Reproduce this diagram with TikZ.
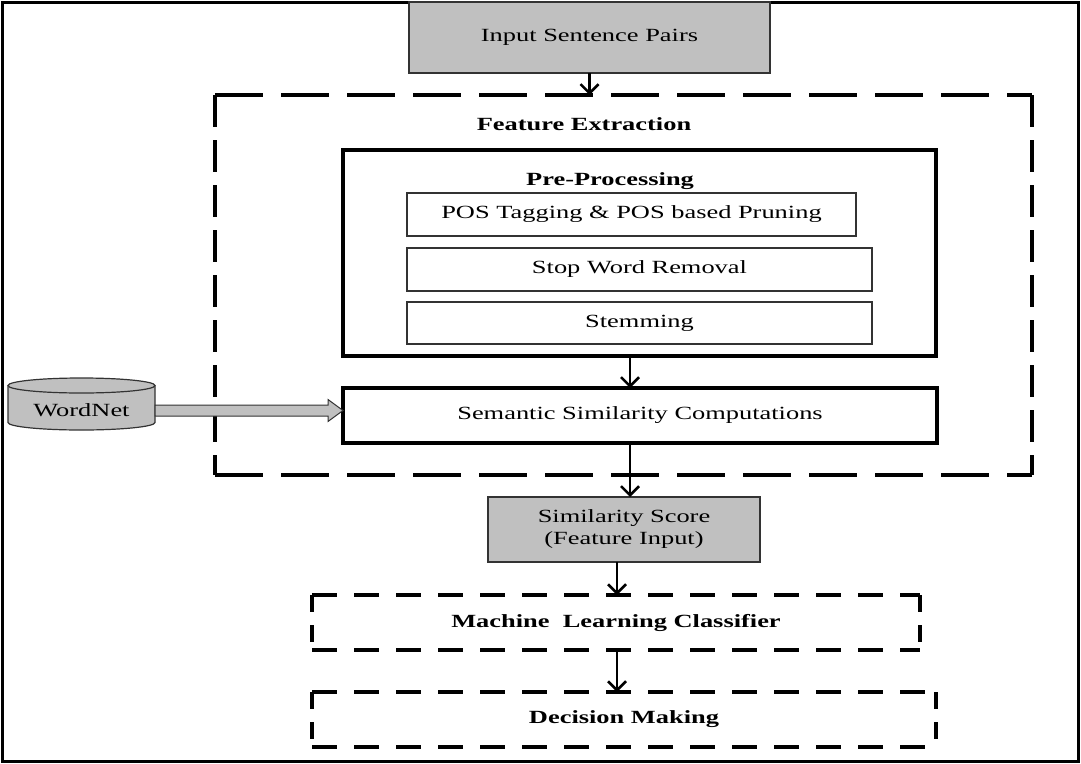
\documentclass[tikz,border=0pt]{standalone}
\usepackage{fontspec}
\setmainfont{Liberation Serif}[FakeStretch=1.42]
\usetikzlibrary{arrows.meta,calc}
\definecolor{boxgray}{HTML}{C0C0C0}
\definecolor{edgegray}{HTML}{333333}
\tikzset{
  txt/.style={font=\fontsize{18.6}{22}\selectfont, align=center, inner sep=0pt},
  bx/.style={txt, minimum width=#1, outer sep=0pt},
  thinbox/.style={draw=edgegray, line width=1.5pt},
  graybox/.style={thinbox, fill=boxgray},
  thickbox/.style={draw=black, line width=4pt},
  arr/.style={line width=2.5pt, -{Straight Barb[length=9pt,width=18pt,line width=2.5pt]}},
  bigdashH/.style={line width=3.5pt, dash pattern=on 48pt off 18pt},
  bigdashV/.style={line width=4pt, dash pattern=on 32pt off 13pt},
  smdashH/.style={line width=3.5pt, dash pattern=on 25pt off 17pt},
  smdashV/.style={line width=4pt, dash pattern=on 17pt off 13pt},
}
\begin{document}
\begin{tikzpicture}[x=1pt,y=-1pt]
\useasboundingbox (0,0) rectangle (1081,763);
\draw[line width=3pt] (2,2) rectangle (1078,761);

% boxes
\node[bx=361pt, minimum height=71pt, graybox] (inp) at (589.5,37.5) {Input Sentence Pairs};
\node[bx=817pt, minimum height=380pt] (fe) at (623.5,285) {};
\node[txt, font=\fontsize{18.6}{22}\selectfont\bfseries] (felab) at (584,124) {Feature Extraction};
\node[bx=593pt, minimum height=206pt, thickbox] (pre) at (639.5,253) {};
\node[txt, font=\fontsize{18.6}{22}\selectfont\bfseries] (prelab) at (610,181) {Pre-Processing};
\node[bx=449pt, minimum height=43pt, thinbox] (pos) at (631.5,214.5) {POS Tagging \& POS based Pruning};
\node[bx=465pt, minimum height=43pt, thinbox] (stop) at (639.5,269.5) {Stop Word Removal};
\node[bx=465pt, minimum height=42pt, thinbox] (stem) at (639.5,323) {Stemming};
\node[bx=594pt, minimum height=55pt, thickbox] (sem) at (640,415.5) {Semantic Similarity Computations};
\node[bx=272pt, minimum height=65pt, graybox] (sim) at (624,529.5) {Similarity Score\\(Feature Input)};
\node[bx=608pt, minimum height=55pt, font=\fontsize{18.6}{22}\selectfont\bfseries] (ml) at (616,622.5) {Machine\ \ Learning Classifier};
\node[bx=624pt, minimum height=55pt, font=\fontsize{18.6}{22}\selectfont\bfseries] (dec) at (624,719.5) {Decision Making};

% dashed outlines
\draw[bigdashH] (fe.north west) -- (fe.north east);
\draw[bigdashH] (fe.south west) -- (fe.south east);
\draw[bigdashV] (fe.north west) -- (fe.south west);
\draw[bigdashV] (fe.north east) -- (fe.south east);
\foreach \b in {ml,dec}{
  \draw[smdashH] (\b.north west) -- (\b.north east);
  \draw[smdashH] (\b.south west) -- (\b.south east);
  \draw[smdashV] (\b.north west) -- (\b.south west);
  \draw[smdashV] (\b.north east) -- (\b.south east);
}

% WordNet cylinder
\fill[boxgray] (8,385.5) -- (8,422.5) arc[start angle=180,end angle=0,x radius=73.5,y radius=7.5] -- (155,385.5) -- cycle;
\draw[edgegray, line width=1.2pt] (8,385.5) -- (8,422.5) arc[start angle=180,end angle=0,x radius=73.5,y radius=7.5] -- (155,385.5);
\draw[edgegray, line width=1.2pt, fill=boxgray] (81.5,385.5) ellipse[x radius=73.5, y radius=7.5];
\node[txt] (wn) at (81.5,410) {WordNet};
\coordinate (wnE) at (155,410.5);

% fat arrow
\path let \p1=(wnE), \p2=(sem.west) in
  coordinate (fa) at (\x2,\y1);
\draw[edgegray, line width=1pt, fill=boxgray]
  ($(wnE)+(0,-5.5)$) -- ($(fa)+(-15,-5.5)$) -- ($(fa)+(-15,-11)$) -- (fa)
  -- ($(fa)+(-15,11)$) -- ($(fa)+(-15,5.5)$) -- ($(wnE)+(0,5.5)$) -- cycle;

% connectors
\coordinate (xa) at (589.5,0);
\coordinate (xb) at (630,0);
\coordinate (xc) at (617,0);
\draw[arr] (inp.south -| xa) -- (fe.north -| xa);
\draw[arr] (pre.south -| xb) -- (sem.north -| xb);
\draw[arr] (sem.south -| xb) -- (sim.north -| xb);
\draw[arr] (sim.south -| xc) -- (ml.north -| xc);
\draw[arr] (ml.south -| xc) -- (dec.north -| xc);
\end{tikzpicture}
\end{document}
